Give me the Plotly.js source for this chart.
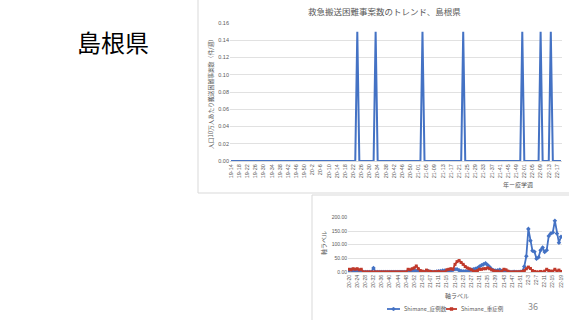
<!DOCTYPE html>
<html>
<head>
<meta charset="utf-8">
<script src="https://cdn.plot.ly/plotly-3.0.1.min.js"></script>
<style>html,body{margin:0;padding:0;background:#fff;overflow:hidden;}#chart{width:569px;height:320px;}</style>
</head>
<body>
<div id="chart"></div>
<script>
// ---------- DATA ----------
// Week categories (year-epi week), 2019-14 .. 2022-19
const weeksPerYear = [["19", 14, 52], ["20", 1, 53], ["21", 1, 52], ["22", 1, 19]];
const weekCats = [];
weeksPerYear.forEach(([y, a, b]) => { for (let w = a; w <= b; w++) weekCats.push(y + "-" + w); });

// Main chart: emergency transport difficulty cases per 100k population (per week)
const difficultCases = [
  0,0,0,0,0,0,0,0,0,0,
  0,0,0,0,0,0,0,0,0,0,
  0,0,0,0,0,0,0,0,0,0,
  0,0,0,0,0,0,0,0,0,0,
  0,0,0,0,0,0,0,0,0,0,
  0,0,0,0,0,0,0,0,0,0,
  0,0,0.15,0,0,0,0,0,0,0,
  0,0.15,0,0,0,0,0,0,0,0,
  0,0,0,0,0,0,0,0,0,0,
  0,0,0,0,0.15,0,0,0,0,0,
  0,0,0,0,0,0,0,0,0,0,
  0,0,0,0,0.15,0,0,0,0,0,
  0,0,0,0,0,0,0,0,0,0,
  0,0,0,0,0,0,0,0,0,0,
  0,0,0,0.15,0,0,0,0,0,0,
  0,0,0.15,0,0,0,0,0.15,0,0,
  0,0,0
];
const mainTickText = ["19-14","19-18","19-22","19-26","19-30","19-34","19-38","19-42","19-46","19-50",
  "20-2","20-6","20-10","20-14","20-18","20-22","20-26","20-30","20-34","20-38","20-42","20-46","20-50",
  "21-01","21-05","21-09","21-13","21-17","21-21","21-25","21-29","21-33","21-37","21-41","21-45","21-49",
  "22-01","22-05","22-09","22-13","22-17"];

// Second chart: from 20-20
const subCats = weekCats.slice(weekCats.indexOf("20-20"));
const seriesNames = ["Shimane_症例数", "Shimane_重症例"];
const shimaneCases = [
  5,8,3,6,4,2,3,0,0,0,
  0,0,15,0,0,0,0,0,0,0,
  0,0,0,0,0,0,0,0,0,2,
  3,5,6,4,3,2,0,0,2,3,
  1,0,0,2,3,4,5,5,5,5,
  5,7,10,10,6,4,3,3,3,5,
  8,10,12,15,20,25,28,32,26,18,
  10,6,5,6,8,4,3,2,1,0,
  0,1,0,0,1,2,20,58,158,115,
  78,74,49,54,80,90,73,80,132,141,
  145,188,141,107,129
];
const shimaneSevere = [
  10,8,12,10,12,8,10,0,0,0,
  0,0,0,0,0,0,0,0,0,0,
  0,0,0,0,0,0,0,0,0,10,
  8,12,15,22,12,5,3,0,7,3,
  2,0,1,0,2,0,0,0,8,10,
  12,10,28,38,42,35,28,20,15,12,
  8,3,2,5,10,10,12,12,15,12,
  8,5,2,3,0,3,10,8,3,0,
  0,0,0,0,0,2,5,12,18,13,
  5,2,0,0,2,0,3,10,5,3,
  3,10,3,7,2
];
const subTickText = ["20-20","20-24","20-28","20-32","20-36","20-40","20-44","20-48","20-52",
  "21-03","21-07","21-11","21-15","21-19","21-23","21-27","21-31","21-35","21-39","21-43","21-47","21-51",
  "22-3","22-7","22-11","22-15","22-19"];

// ---------- FIGURE ----------
const W = 569, H = 320;
const px = x => x / W, py = y => 1 - y / H;
const every4 = arr => arr.filter((_, i) => i % 4 === 0);
const JP = '"Noto Sans CJK JP", "Noto Sans", sans-serif';
const GREY = '#595959';
const BLUE = '#4472C4', RED = '#C0392B';

const traces = [
  { x: weekCats, y: difficultCases, type: 'scatter', mode: 'lines', xaxis: 'x', yaxis: 'y',
    line: { color: BLUE, width: 2 }, showlegend: false },
  { x: subCats, y: shimaneCases, type: 'scatter', mode: 'lines+markers', xaxis: 'x2', yaxis: 'y2',
    name: seriesNames[0], line: { color: BLUE, width: 1.8 },
    marker: { symbol: 'diamond', size: 3.5, color: BLUE }, showlegend: false },
  { x: subCats, y: shimaneSevere, type: 'scatter', mode: 'lines+markers', xaxis: 'x2', yaxis: 'y2',
    name: seriesNames[1], line: { color: RED, width: 1.8 },
    marker: { symbol: 'square', size: 3, color: RED }, showlegend: false }
];

const tickFont = { family: 'Liberation Sans, Arial, sans-serif', size: 5.5, color: GREY };

function ann(text, x, y, size, color, extra) {
  return Object.assign({ text, xref: 'paper', yref: 'paper', x: px(x), y: py(y), showarrow: false,
    xanchor: 'center', yanchor: 'middle', font: { family: JP, size, color } }, extra || {});
}

// custom compact legend (Excel style)
const legendItems = [
  { name: seriesNames[0], color: BLUE, x0: 387, x1: 400, tx: 402, sym: 'diamond' },
  { name: seriesNames[1], color: RED, x0: 446, x1: 457, tx: 459, sym: 'square' }
];
const LY = 309;
const legendShapes = [];
legendItems.forEach(it => {
  legendShapes.push({ type: 'line', xref: 'paper', yref: 'paper', x0: px(it.x0), x1: px(it.x1), y0: py(LY), y1: py(LY),
    line: { color: it.color, width: 1.8 } });
  const cx = (it.x0 + it.x1) / 2;
  if (it.sym === 'diamond') {
    legendShapes.push({ type: 'path', xref: 'paper', yref: 'paper',
      path: `M ${px(cx)} ${py(LY - 2)} L ${px(cx + 2)} ${py(LY)} L ${px(cx)} ${py(LY + 2)} L ${px(cx - 2)} ${py(LY)} Z`,
      fillcolor: it.color, line: { color: it.color, width: 0.5 } });
  } else {
    legendShapes.push({ type: 'rect', xref: 'paper', yref: 'paper', x0: px(cx - 1.5), x1: px(cx + 1.5),
      y0: py(LY + 1.5), y1: py(LY - 1.5), fillcolor: it.color, line: { color: it.color, width: 0.5 } });
  }
});

const layout = {
  width: W, height: H, margin: { l: 0, r: 0, t: 0, b: 0, autoexpand: false },
  paper_bgcolor: '#fff', plot_bgcolor: 'rgba(0,0,0,0)',
  font: { family: JP, color: GREY },
  showlegend: false,
  xaxis: { domain: [px(230), px(562)], anchor: 'y', type: 'category', range: [-0.5, weekCats.length - 0.5],
    tickmode: 'array', tickvals: every4(weekCats), ticktext: mainTickText, tickangle: -90,
    tickfont: tickFont, showgrid: false, showline: true, linecolor: '#D9D9D9', ticks: '', automargin: false },
  yaxis: { domain: [py(161), py(23)], anchor: 'x', range: [0, 0.1601], tick0: 0, dtick: 0.02, tickformat: '.2f',
    tickfont: tickFont, gridcolor: '#D9D9D9', gridwidth: 0.8, zeroline: false, showline: false, ticks: '', automargin: false },
  xaxis2: { domain: [px(348), px(562)], anchor: 'y2', type: 'category', range: [-0.5, subCats.length - 0.5],
    tickmode: 'array', tickvals: every4(subCats), ticktext: subTickText, tickangle: -90,
    tickfont: { ...tickFont, size: 5 }, showgrid: false, showline: true, linecolor: '#D9D9D9', ticks: '', automargin: false },
  yaxis2: { domain: [py(272), py(217.3)], anchor: 'x2', range: [0, 200.5], tick0: 0, dtick: 50, tickformat: '.2f',
    tickfont: { ...tickFont, size: 5 }, gridcolor: '#D9D9D9', gridwidth: 0.8, zeroline: false, showline: false, ticks: '', automargin: false },
  shapes: [
    { type: 'rect', xref: 'paper', yref: 'paper', x0: px(198), x1: px(569.5), y0: py(193), y1: py(-1),
      line: { color: '#D9D9D9', width: 1 }, fillcolor: 'rgba(0,0,0,0)' },
    { type: 'rect', xref: 'paper', yref: 'paper', x0: px(312), x1: px(569.5), y0: py(321), y1: py(195),
      line: { color: '#D9D9D9', width: 1 }, fillcolor: 'rgba(0,0,0,0)' },
    ...legendShapes
  ],
  annotations: [
    ann('島根県', 113, 42, 24, '#000'),
    ann('救急搬送困難事案数のトレンド、島根県', 384, 11, 8.5, GREY),
    ann('人口10万人あたり搬送困難事案数（件/週）', 210, 93, 5.8, GREY, { textangle: -90 }),
    ann('年ー疫学週', 518, 184, 6, GREY),
    ann('軸ラベル', 323, 243, 6, GREY, { textangle: -90 }),
    ann('軸ラベル', 457, 295, 6, GREY),
    ann('36', 533, 306, 9, '#8C8C8C'),
    ...legendItems.map(it => ann(it.name, it.tx, LY, 5.5, GREY, { xanchor: 'left' }))
  ]
};

Plotly.newPlot('chart', traces, layout, { staticPlot: true, displayModeBar: false });
</script>
</body>
</html>
